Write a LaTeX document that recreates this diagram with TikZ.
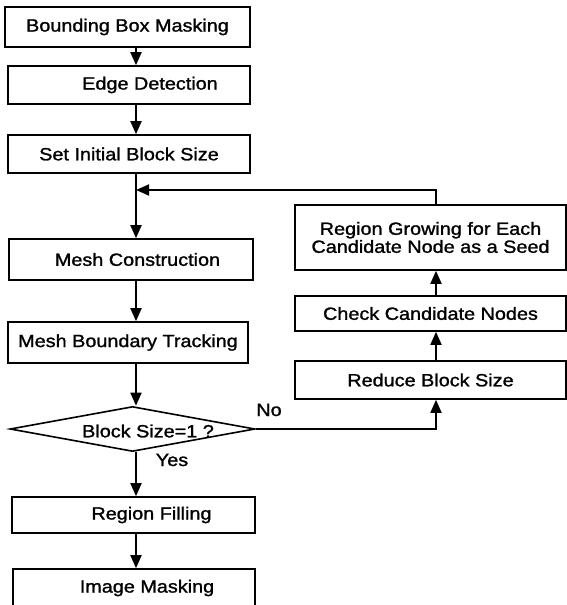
\documentclass[tikz,border=0pt]{standalone}
\usepackage{fontspec}
\setmainfont{Liberation Sans}[FakeStretch=1.12,FakeBold=1.3]
\usetikzlibrary{arrows.meta,shapes.geometric}

\tikzset{
	blk/.style={draw, line width=1.6pt, inner sep=0pt, font=\fontsize{17.7}{18}\selectfont},
	lbl/.style={inner sep=0pt, font=\fontsize{17.7}{18}\selectfont},
	arr/.style={line width=1.8pt, -{Triangle[length=13pt,width=11pt]}},
}

\begin{document}
\begin{tikzpicture}[x=1pt,y=-1pt]
			%%%%% START %%%%%
			\useasboundingbox (0,0) rectangle (567,605);
			\coordinate (spine) at (136,0);
			\coordinate (rspine) at (436,0);
			\coordinate (join) at (136,190);
			
			% left column
			\node[blk, minimum width=245pt, minimum height=40pt] (bbox) at (127.5,27) {Bounding Box Masking};
			\node[blk, minimum width=242pt, minimum height=38pt] (edge) at (129,85) {\hspace*{42pt}Edge Detection};
			\node[blk, minimum width=242pt, minimum height=38pt] (init) at (129,154) {Set Initial Block Size};
			\node[blk, minimum width=244pt, minimum height=41pt] (mesh) at (131,259.5) {\hspace*{13pt}Mesh Construction};
			\node[blk, minimum width=240pt, minimum height=41pt] (track) at (128,342.5) {Mesh Boundary Tracking};
			\node[draw, line width=1.6pt, shape=diamond, inner sep=0pt, minimum width=245pt, minimum height=45pt] (dec) at (132.5,429) {};
			\node[lbl] (dectxt) at (148,431) {Block Size=1 ?};
			\node[blk, minimum width=243pt, minimum height=36pt] (fill) at (133.5,515) {\hspace*{36pt}Region Filling};
			\node[blk, minimum width=242pt, minimum height=38pt] (mask) at (134,588) {\hspace*{26pt}Image Masking};
			
			% right column
			\node[blk, align=center, minimum width=271pt, minimum height=65pt] (grow) at (430.5,237.5) {Region Growing for Each\\Candidate Node as a Seed};
			\node[blk, minimum width=271pt, minimum height=35pt] (check) at (430.5,313.5) {Check Candidate Nodes};
			\node[blk, minimum width=271pt, minimum height=38pt] (reduce) at (430.5,380) {Reduce Block Size};
			
			\node[lbl] (no) at (269,410) {No};
			\node[lbl] (yes) at (172,460) {Yes};
			
			% connectors
			\draw[arr] (bbox.south -| spine) -- (edge.north -| spine);
			\draw[arr] (edge.south -| spine) -- (init.north -| spine);
			\draw[arr] (init.south -| spine) -- (mesh.north -| spine);
			\draw[arr] (grow.north -| rspine) |- (join);
			\draw[arr] (mesh.south -| spine) -- (track.north -| spine);
			\draw[arr] (track.south -| spine) -- (dec.north -| spine);
			\draw[arr] (dec.south -| spine) -- (fill.north -| spine);
			\draw[arr] (fill.south -| spine) -- (mask.north -| spine);
			\draw[arr] (dec.east) -| (reduce.south -| rspine);
			\draw[arr] (reduce.north -| rspine) -- (check.south -| rspine);
			\draw[arr] (check.north -| rspine) -- (grow.south -| rspine);
			%%%%% END %%%%%
\end{tikzpicture}
\end{document}
